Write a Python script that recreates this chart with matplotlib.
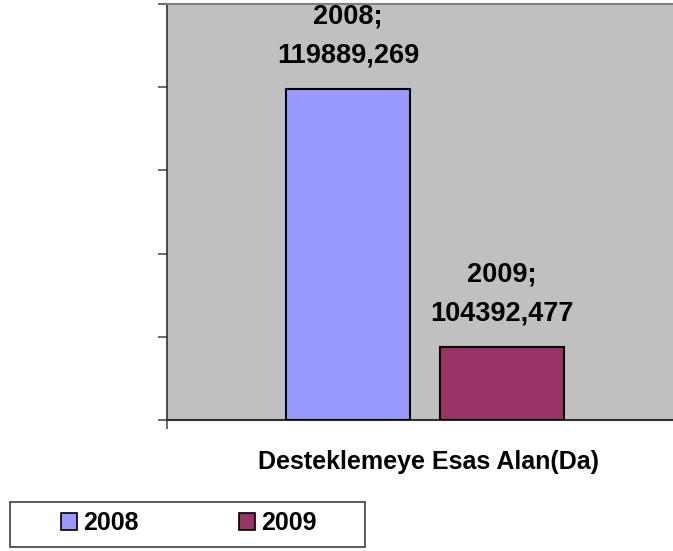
import matplotlib
matplotlib.use("Agg")
import matplotlib.pyplot as plt
from matplotlib.patches import Patch, Rectangle

plt.rcParams['font.family'] = ['Liberation Sans', 'DejaVu Sans']

years = ['2008', '2009']
values = [119889.269, 104392.477]
value_labels = ['119889,269', '104392,477']
colors = ['#9999FF', '#993366']
category = 'Desteklemeye Esas Alan(Da)'
y_min, y_max, y_step = 100000, 125000, 5000

W, H = 673, 551
fig = plt.figure(figsize=(W / 100, H / 100), dpi=100)
fig.patch.set_facecolor('white')

left, right, top, bottom = 167, 683, 4, 420
ax = fig.add_axes([left / W, 1 - bottom / H, (right - left) / W, (bottom - top) / H])
ax.set_facecolor('#C0C0C0')

bar_w = 0.24
gap = 0.058
offsets = [-(bar_w + gap) / 2, (bar_w + gap) / 2]
for yr, v, lab, c, off in zip(years, values, value_labels, colors, offsets):
    ax.bar(off, v - y_min, bottom=y_min, width=bar_w, color=c,
           edgecolor='black', linewidth=1.5, zorder=3)
    ax.annotate(f'{yr};\n{lab}', xy=(off, v), xytext=(0, 15),
                textcoords='offset points', ha='center', va='bottom',
                fontsize=19.5, fontweight='bold', linespacing=1.62,
                annotation_clip=False)

ax.set_xlim(-0.5, 0.5)
ax.set_ylim(y_min, y_max)
ax.set_yticks(range(y_min, y_max + 1, y_step))
ax.set_yticklabels([])
ax.set_xticks([-0.5])
ax.set_xticklabels([])
ax.tick_params(axis='both', direction='out', length=6.5, width=1.2, color='#505050')
ax.spines['left'].set_color('#303030')
ax.spines['left'].set_linewidth(1.2)
ax.spines['bottom'].set_color('#303030')
ax.spines['bottom'].set_linewidth(1.5)
ax.spines['top'].set_color('#808080')
ax.spines['top'].set_linewidth(1.5)
ax.spines['right'].set_visible(False)

fig.text(429 / W, 1 - 469 / H, category, ha='center', va='baseline',
         fontsize=18, fontweight='bold')

# legend frame
fig.add_artist(Rectangle((10 / W, 1 - 547 / H), 355 / W, 45 / H,
                         transform=fig.transFigure, facecolor='white',
                         edgecolor='#404040', linewidth=1.2, zorder=1))
handles = [Patch(facecolor=c, edgecolor='black', linewidth=1.2) for c in colors]
leg = fig.legend(handles, years, loc='center left',
                 bbox_to_anchor=(61 / W, 1 - 523 / H),
                 ncol=2, frameon=False,
                 prop={'weight': 'bold', 'size': 18},
                 handlelength=0.65, handleheight=0.65, handletextpad=0.25,
                 columnspacing=4.0, borderaxespad=0, borderpad=0)
leg.set_zorder(2)

fig.savefig('out.png', dpi=100)
